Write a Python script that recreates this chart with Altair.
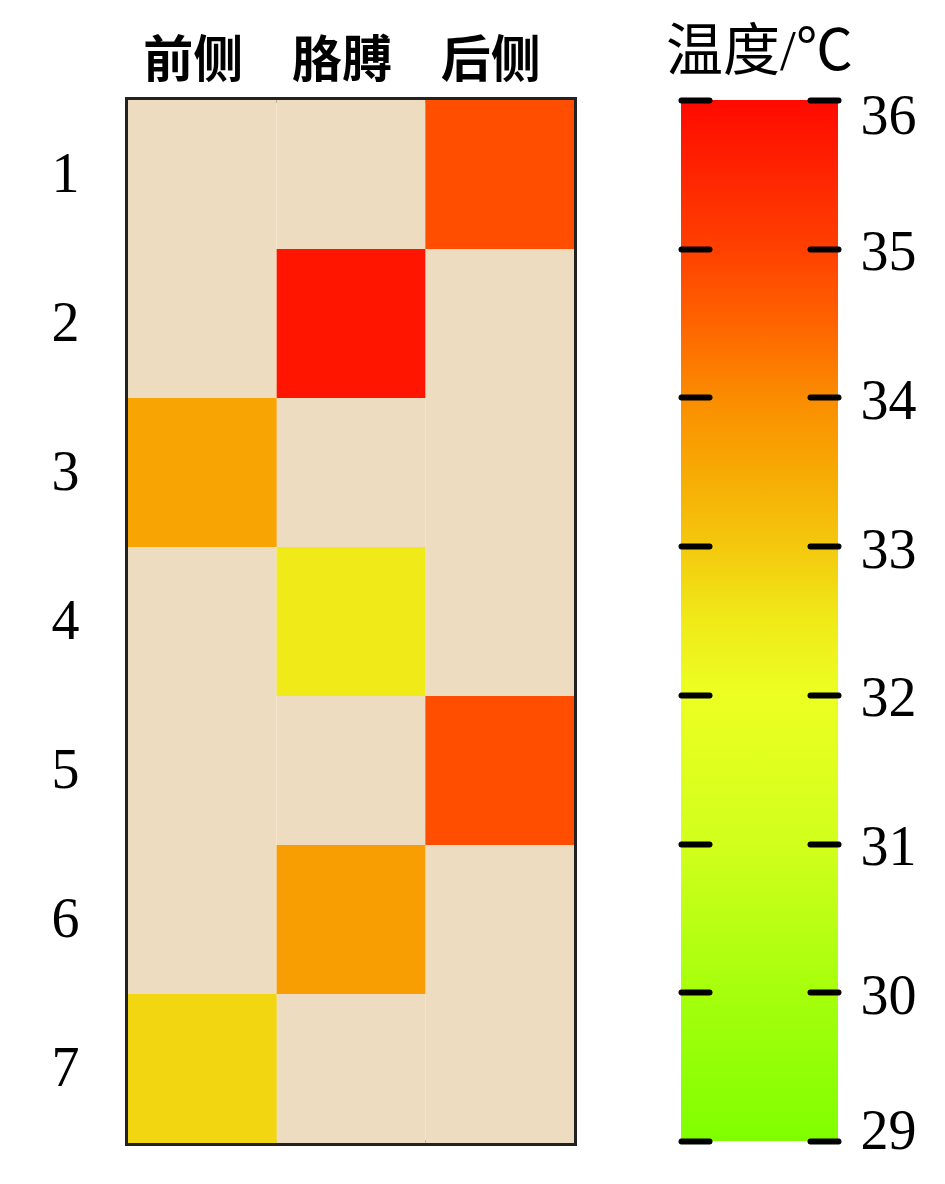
import altair as alt
import pandas as pd

# ---- data ----
rows = ["1", "2", "3", "4", "5", "6", "7"]
cols = ["前侧", "胳膊", "后侧"]
hot_col = ["后侧", "胳膊", "前侧", "胳膊", "后侧", "胳膊", "前侧"]
hot_temp = [34.8, 35.8, 33.6, 32.5, 34.8, 33.7, 32.8]

cb_ticks = [29, 30, 31, 32, 33, 34, 35, 36]
stop_values = [29, 30, 31, 32, 32.5, 33, 33.5, 34, 34.5, 35, 36]
stop_colors = ["#80FF00", "#A6FF0C", "#D2FF1C", "#ECFF22", "#F0EA18", "#F4C80E",
               "#F7AA04", "#FB8C00", "#FF6400", "#FF4000", "#FF0A00"]

BEIGE = "#EEDCC0"

records = []
for r, hc, ht in zip(rows, hot_col, hot_temp):
    for c in cols:
        records.append({"row": r, "col": c, "temp": ht if c == hc else None})
df = pd.DataFrame(records)

df_bar = pd.DataFrame({"lo": [min(cb_ticks)], "hi": [max(cb_ticks)], "a": [0], "b": [1]})

color_scale = alt.Scale(domain=stop_values, range=stop_colors, interpolate="rgb")

x_enc = alt.X("col:N", sort=cols, scale=alt.Scale(paddingInner=0, paddingOuter=0),
              axis=alt.Axis(orient="top", labelAngle=0, ticks=False, domain=False, title=None,
                            labelFont="Noto Sans CJK SC", labelFontSize=50, labelFontWeight="bold",
                            labelColor="black", labelPadding=14, labelOffset=-9, minExtent=84))
y_enc = alt.Y("row:N", sort=rows, scale=alt.Scale(paddingInner=0, paddingOuter=0),
              axis=alt.Axis(ticks=False, tickSize=0, domain=False, title=None,
                            labelFont="Liberation Serif", labelFontSize=56, labelColor="black",
                            labelPadding=49, minExtent=112))

base = alt.Chart(df).mark_rect(color=BEIGE).encode(x=x_enc, y=y_enc)
hot = alt.Chart(df).transform_filter("isValid(datum.temp)").mark_rect().encode(
    x=alt.X("col:N", sort=cols), y=alt.Y("row:N", sort=rows),
    color=alt.Color("temp:Q", scale=color_scale, legend=None))

heat = alt.layer(base, hot).properties(width=446, height=1043)

# ---- colour bar ----
grad = alt.LinearGradient(
    gradient="linear",
    stops=[alt.GradientStop(color=c, offset=(v - min(cb_ticks)) / (max(cb_ticks) - min(cb_ticks)))
           for v, c in zip(stop_values, stop_colors)],
    x1=0, x2=0, y1=1, y2=0)

ysc = alt.Scale(domain=[min(cb_ticks), max(cb_ticks)], nice=False, zero=False)
xsc = alt.Scale(domain=[0, 1], nice=False, zero=False)

bar_fill = alt.Chart(df_bar).mark_rect(color=grad).encode(
    x=alt.X("a:Q", scale=xsc, axis=None), x2="b:Q",
    y=alt.Y("lo:Q", scale=ysc,
            axis=alt.Axis(orient="left", values=cb_ticks, labels=False, domain=False, grid=False,
                          title=None, offset=-28, tickSize=28, tickWidth=6, tickColor="black",
                          tickCap="round", minExtent=0, maxExtent=0, zindex=2)),
    y2="hi:Q")
bar_axis = alt.Chart(df_bar).mark_rect(opacity=0).encode(
    x=alt.X("a:Q", scale=xsc, axis=None), x2="b:Q",
    y=alt.Y("lo:Q", scale=ysc,
            axis=alt.Axis(orient="right", values=cb_ticks, domain=False, grid=False, title=None,
                          offset=-28, tickSize=28, tickWidth=6, tickColor="black", tickCap="round",
                          labelPadding=22, labelFont="Liberation Serif", labelFontSize=56,
                          labelColor="black", labelFlush=True, labelFlushOffset=15,
                          labelOffset=4, format="d", zindex=2)),
    y2="hi:Q")

cbar = alt.layer(bar_fill, bar_axis).resolve_scale(y="independent").properties(
    width=157, height=1041,
    title=alt.TitleParams("温度/℃", font="Liberation Serif, Noto Sans CJK SC", fontSize=57,
                          fontWeight="normal", color="black", anchor="middle", offset=6),
    view=alt.ViewBackground(stroke=None))

chart = alt.hconcat(heat, cbar, spacing=89).configure(background="white").configure_view(
    stroke="#222222", strokeWidth=6)

chart.save("out.html", embed_options={"renderer": "svg", "actions": False})
